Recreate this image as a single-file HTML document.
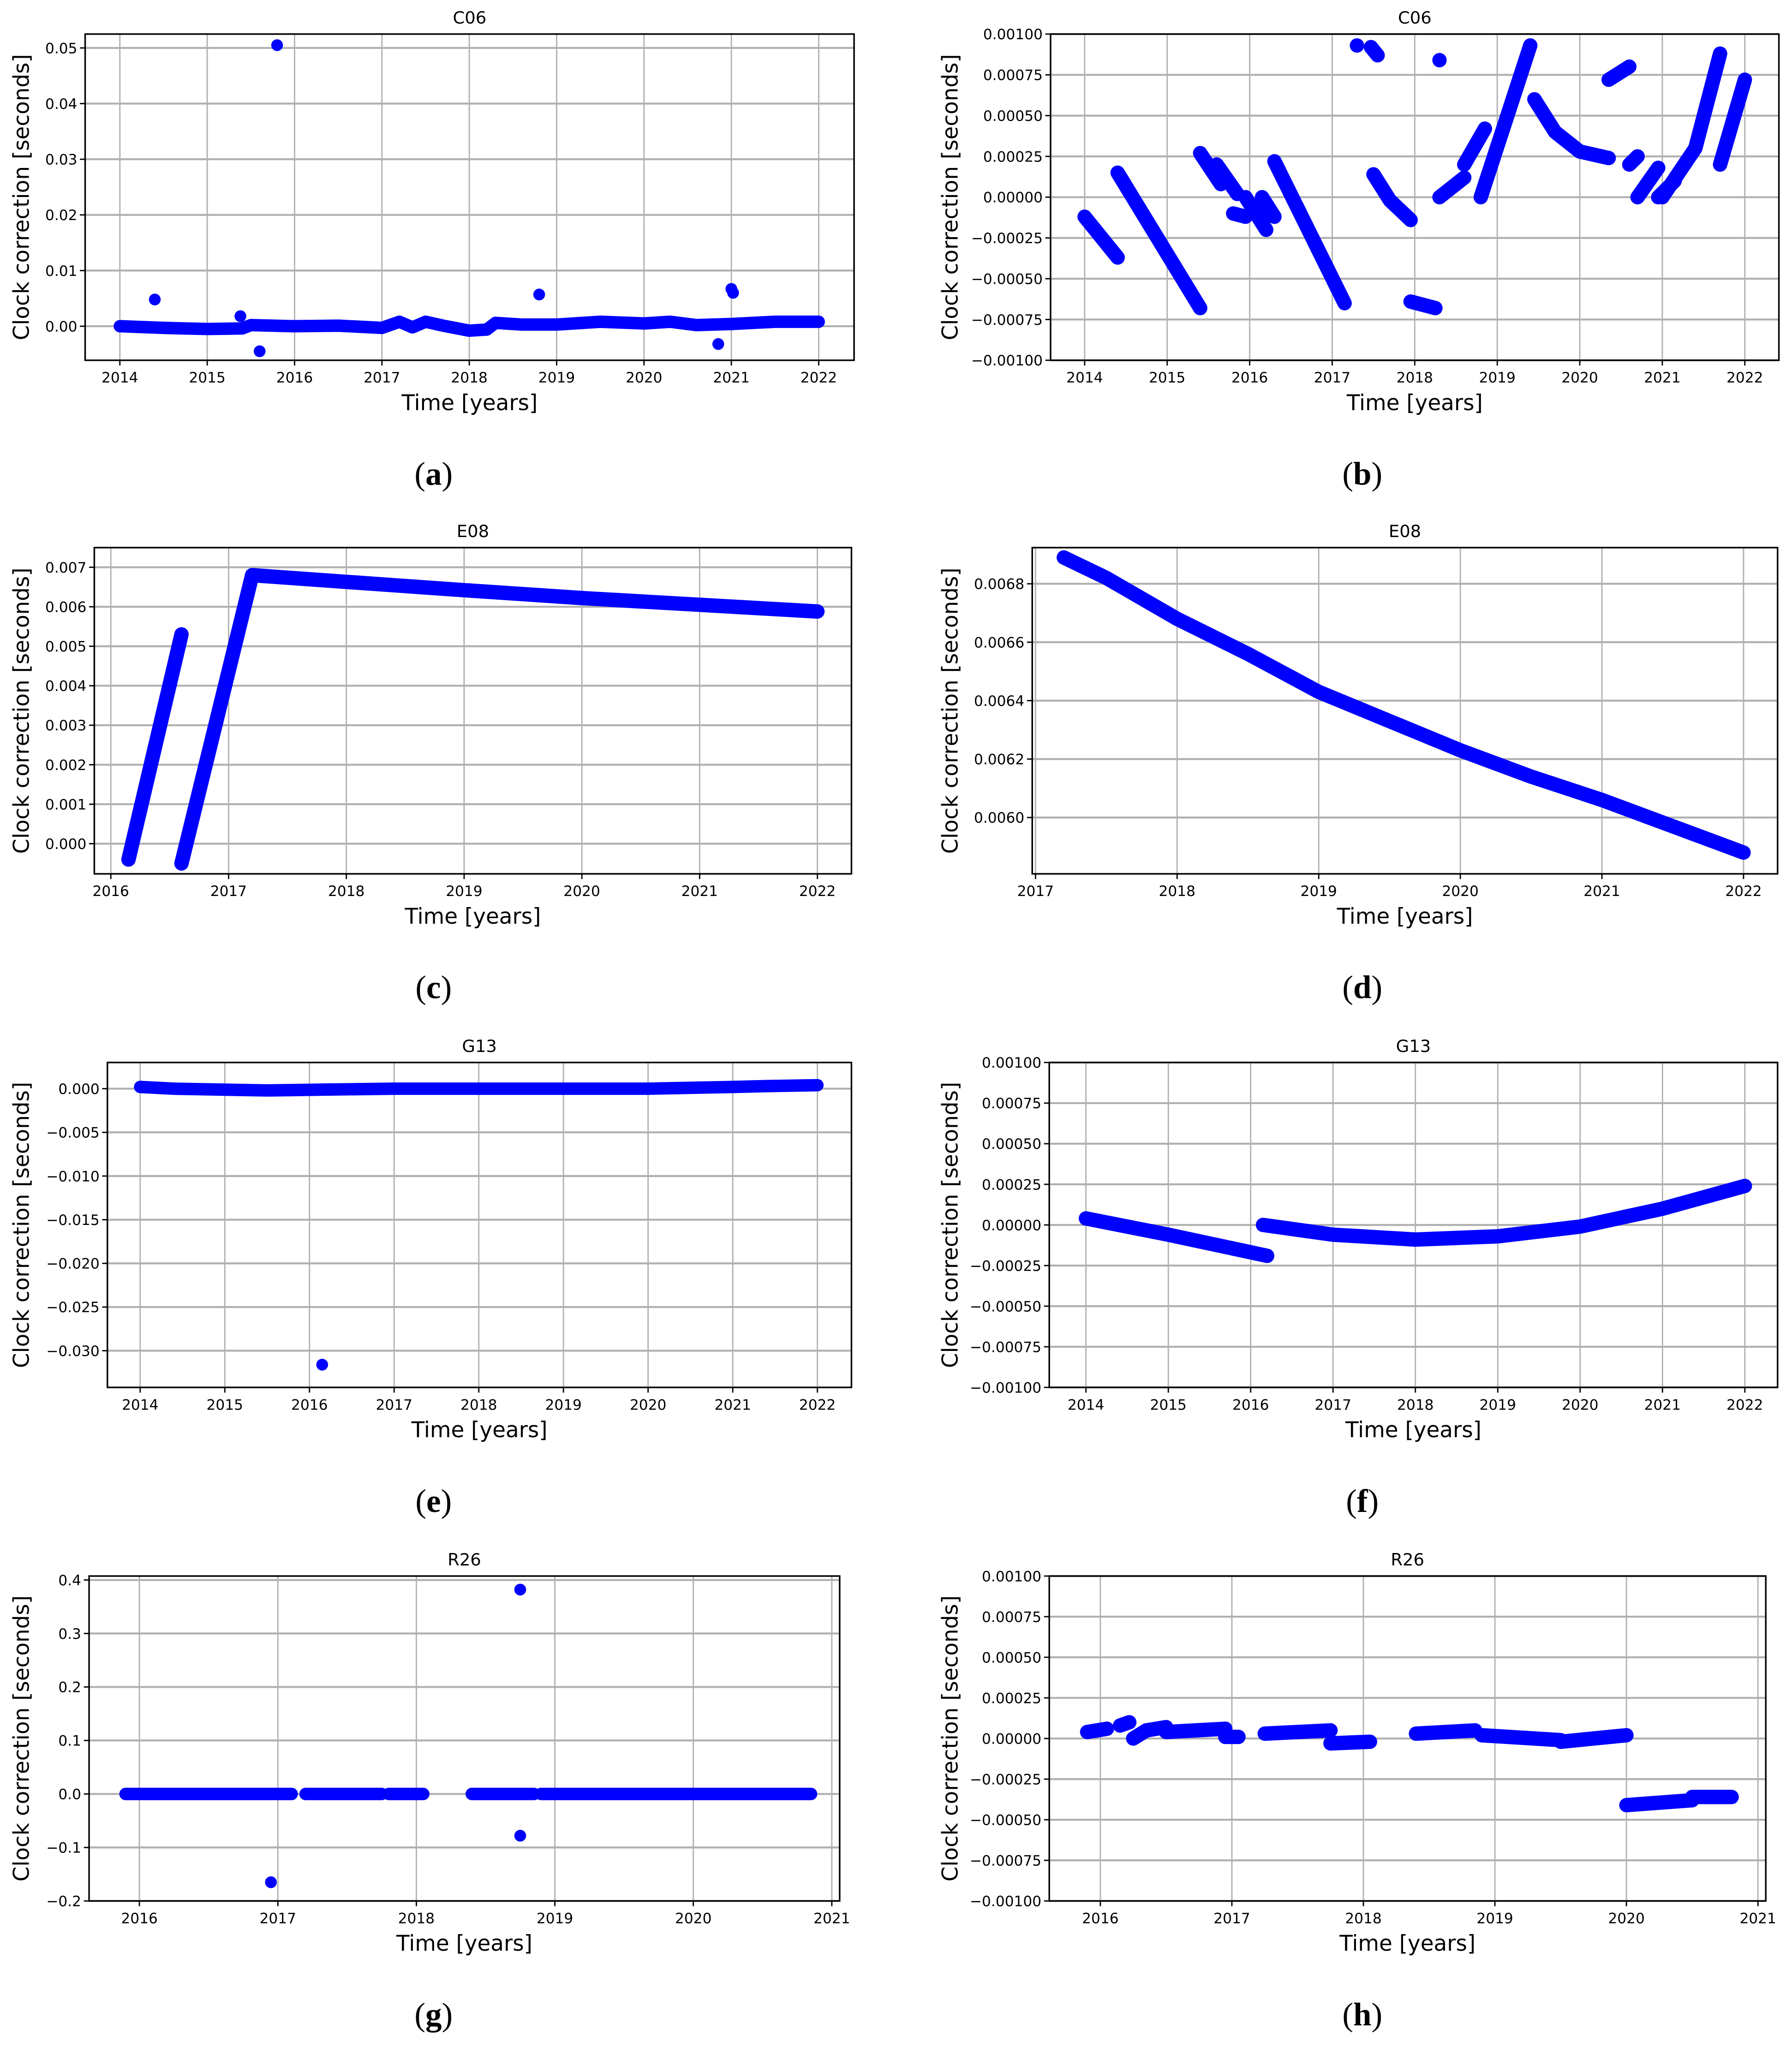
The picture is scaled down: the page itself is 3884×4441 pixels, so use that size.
<!DOCTYPE html>
<html><head><meta charset="utf-8"><style>
html,body{margin:0;padding:0;background:#fff;}
svg{display:block;}
text{font-family:"DejaVu Sans","Liberation Sans",sans-serif;fill:#000;}
.sub{font-family:"Liberation Serif",serif;}
</style></head><body>
<svg id="fig" width="3884" height="4441" viewBox="0 0 1368 1564" preserveAspectRatio="none" xmlns="http://www.w3.org/2000/svg"></svg>
<script>
// ---- data (years, seconds) ----
const a_line_t=[2014,2014.5,2015,2015.4,2015.5,2016,2016.5,2017,2017.2,2017.35,2017.5,2017.7,2018,2018.2,2018.3,2018.6,2019,2019.5,2020,2020.3,2020.6,2021,2021.5,2022];
const a_line_v=[0,-0.0003,-0.0005,-0.0004,0.0002,0,0.0001,-0.0003,0.0008,-0.0002,0.0008,0.0001,-0.0008,-0.0006,0.0006,0.0003,0.0003,0.0008,0.0005,0.0008,0.0002,0.0004,0.0008,0.0008];
const a_out_t=[2014.4,2015.38,2015.6,2015.8,2018.8,2020.85,2021.0,2021.02];
const a_out_v=[0.0048,0.0018,-0.0045,0.0505,0.0057,-0.0032,0.0067,0.006];

const b_segs=[
 {t:[2014.0,2014.4],v:[-0.00012,-0.00037]},
 {t:[2014.4,2015.4],v:[0.00015,-0.00068]},
 {t:[2015.4,2015.65],v:[0.00027,0.00008]},
 {t:[2015.6,2015.85],v:[0.0002,0.00002]},
 {t:[2015.8,2015.95],v:[-0.0001,-0.00012]},
 {t:[2015.95,2016.2],v:[0.0,-0.0002]},
 {t:[2016.15,2016.3],v:[0.0,-0.00012]},
 {t:[2016.3,2017.15],v:[0.00022,-0.00065]},
 {t:[2017.3,2017.3],v:[0.00093,0.00093]},
 {t:[2017.47,2017.55],v:[0.00092,0.00087]},
 {t:[2017.5,2017.7,2017.95],v:[0.00014,-0.00002,-0.00014]},
 {t:[2017.95,2018.25],v:[-0.00064,-0.00068]},
 {t:[2018.3,2018.3],v:[0.00084,0.00084]},
 {t:[2018.3,2018.6],v:[0.0,0.00012]},
 {t:[2018.6,2018.85],v:[0.0002,0.00042]},
 {t:[2018.8,2019.4],v:[0.0,0.00093]},
 {t:[2019.45,2019.7,2020.0,2020.35],v:[0.0006,0.0004,0.00028,0.00024]},
 {t:[2020.35,2020.6],v:[0.00072,0.0008]},
 {t:[2020.6,2020.7],v:[0.0002,0.00025]},
 {t:[2020.7,2020.95],v:[0.0,0.00018]},
 {t:[2020.95,2021.15],v:[0.0,0.0001]},
 {t:[2021.0,2021.4,2021.7],v:[0.0,0.0003,0.00088]},
 {t:[2021.7,2022.0],v:[0.0002,0.00072]}
];

const c_segs=[
 {t:[2016.15,2016.6],v:[-0.0004,0.0053]},
 {t:[2016.6,2017.2,2018,2019,2020,2021,2022],v:[-0.0005,0.0068,0.00663,0.00642,0.00622,0.00605,0.00588]}
];
const d_t=[2017.2,2017.5,2018,2018.5,2019,2019.5,2020,2020.5,2021,2021.5,2022];
const d_v=[0.00689,0.00682,0.00668,0.00656,0.00643,0.00633,0.00623,0.00614,0.00606,0.00597,0.00588];

const e_t=[2014,2014.4,2015.5,2016.2,2017,2018,2019,2020,2021,2021.4,2022];
const e_v=[0.0002,0,-0.0002,-0.0001,0,0,0,0,0.0002,0.0003,0.0004];
const e_out_t=[2016.15];
const e_out_v=[-0.0316];

const f_segs=[
 {t:[2014,2015,2016.2],v:[0.00004,-0.00006,-0.00019]},
 {t:[2016.15,2017,2018,2019,2020,2021,2022],v:[0.0,-0.00006,-0.00009,-0.00007,-0.00001,0.0001,0.00024]}
];

const g_segs=[
 {t:[2015.9,2017.1],v:[0,0]},
 {t:[2017.2,2017.75],v:[0,0]},
 {t:[2017.8,2018.05],v:[0,0]},
 {t:[2018.4,2018.85],v:[0,0]},
 {t:[2018.9,2020.85],v:[0,0]}
];
const g_out_t=[2016.95,2018.75,2018.75];
const g_out_v=[-0.165,0.382,-0.078];

const h_segs=[
 {t:[2015.9,2016.05],v:[0.00004,0.00006]},
 {t:[2016.15,2016.22],v:[0.00008,0.0001]},
 {t:[2016.25,2016.35,2016.5],v:[0.0,0.00005,0.00007]},
 {t:[2016.5,2016.95],v:[0.00004,0.00006]},
 {t:[2016.95,2017.05],v:[0.00001,0.00001]},
 {t:[2017.25,2017.75],v:[0.00003,0.00005]},
 {t:[2017.75,2018.05],v:[-0.00003,-0.00002]},
 {t:[2018.4,2018.85],v:[0.00003,0.00005]},
 {t:[2018.9,2019.5],v:[0.00002,-0.00001]},
 {t:[2019.5,2020.0],v:[-0.00002,0.00002]},
 {t:[2020.0,2020.5],v:[-0.00041,-0.00038]},
 {t:[2020.5,2020.8],v:[-0.00036,-0.00036]}
];

const yearTicks8=[2014,2015,2016,2017,2018,2019,2020,2021,2022];
const a_yticks=[0,0.01,0.02,0.03,0.04,0.05];
const a_ylabels=["0.00","0.01","0.02","0.03","0.04","0.05"];
const mic_yticks=[-0.001,-0.00075,-0.0005,-0.00025,0,0.00025,0.0005,0.00075,0.001];
const mic_ylabels=["\u22120.00100","\u22120.00075","\u22120.00050","\u22120.00025","0.00000","0.00025","0.00050","0.00075","0.00100"];
const c_xticks=[2016,2017,2018,2019,2020,2021,2022];
const c_yticks=[0,0.001,0.002,0.003,0.004,0.005,0.006,0.007];
const c_ylabels=["0.000","0.001","0.002","0.003","0.004","0.005","0.006","0.007"];
const d_xticks=[2017,2018,2019,2020,2021,2022];
const d_yticks=[0.006,0.0062,0.0064,0.0066,0.0068];
const d_ylabels=["0.0060","0.0062","0.0064","0.0066","0.0068"];
const e_yticks=[-0.03,-0.025,-0.02,-0.015,-0.01,-0.005,0];
const e_ylabels=["\u22120.030","\u22120.025","\u22120.020","\u22120.015","\u22120.010","\u22120.005","0.000"];
const g_xticks=[2016,2017,2018,2019,2020,2021];
const g_yticks=[-0.2,-0.1,0,0.1,0.2,0.3,0.4];
const g_ylabels=["\u22120.2","\u22120.1","0.0","0.1","0.2","0.3","0.4"];

const NS="http://www.w3.org/2000/svg";
const svg=document.getElementById('fig');
function mk(tag,attrs,parent,txt){const e=document.createElementNS(NS,tag);for(const k in attrs)e.setAttribute(k,attrs[k]);if(txt!==undefined)e.textContent=txt;(parent||svg).appendChild(e);return e;}

function panel(p){
  const g=mk('g',{});
  
  
  const X=t=>p.x0+(t-p.t0)*(p.x1-p.x0)/(p.t1-p.t0);
  const Y=v=>p.y0+(v-p.v0)*(p.y1-p.y0)/(p.v1-p.v0);
  p.xt.forEach(t=>{const l=mk('line',{x1:X(t),x2:X(t),y1:p.top,y2:p.bot,stroke:'#b0b0b0','stroke-width':1},g);});
  p.yt.forEach(v=>{const l=mk('line',{x1:p.left,x2:p.right,y1:Y(v),y2:Y(v),stroke:'#b0b0b0','stroke-width':1.5},g);});
  const sw=p.sw||9.5;
  (p.segs||[]).forEach(s=>{
    const pts=s.t.map((t,i)=>X(t).toFixed(2)+','+Y(s.v[i]).toFixed(2)).join(' ');
    const pl=mk('polyline',{points:pts,fill:'none',stroke:'#0000ff','stroke-width':sw,'stroke-linecap':'round','stroke-linejoin':'round'},g);
    
    
  });
  (p.outT||[]).forEach((t,i)=>{
    const c=mk('circle',{cx:X(t),cy:Y(p.outV[i]),r:4.5,fill:'#0000ff'},g);
    
    
  });
  const fr=mk('rect',{x:p.left,y:p.top,width:p.right-p.left,height:p.bot-p.top,fill:'none',stroke:'#000','stroke-width':1.2},g);
  
  
  p.xt.forEach(t=>{
    mk('line',{x1:X(t),x2:X(t),y1:p.bot,y2:p.bot+4,stroke:'#000','stroke-width':1},g);
    const tx=mk('text',{x:X(t),y:p.bot+17,'font-size':11,'text-anchor':'middle'},g,String(t));
    
    
  });
  p.yt.forEach((v,i)=>{
    mk('line',{x1:p.left-4,x2:p.left,y1:Y(v),y2:Y(v),stroke:'#000','stroke-width':1},g);
    const tx=mk('text',{x:p.left-6,y:Y(v)+4,'font-size':11,'text-anchor':'end'},g,p.yl[i]);
    
    
  });
  const cx=(p.left+p.right)/2, cy=(p.top+p.bot)/2;
  const ti=mk('text',{x:cx,y:p.top-8,'font-size':13,'text-anchor':'middle'},g,p.title);
  
  
  const xl=mk('text',{x:cx,y:p.bot+38,'font-size':16.5,'text-anchor':'middle'},g,'Time [years]');
  
  
  const yl=mk('text',{x:0,y:0,'font-size':16.5,'text-anchor':'middle',transform:'translate('+(p.ylx)+','+cy+') rotate(-90)'},g,'Clock correction [seconds]');
  
  
  const sl=mk('text',{x:p.subx,y:p.bot+95,'font-size':25,'text-anchor':'middle','class':'sub'},g);
  
  
  mk('tspan',{},sl,'(');mk('tspan',{'font-weight':'bold'},sl,p.id);mk('tspan',{},sl,')');
}

const toSegs=(t,v)=>[{t:t,v:v}];
panel({id:'a',title:'C06',left:65,right:652,top:26,bot:275,x0:91.5,x1:625,t0:2014,t1:2022,y0:249,y1:36.6,v0:0,v1:0.05,xt:yearTicks8,yt:a_yticks,yl:a_ylabels,segs:toSegs(a_line_t,a_line_v),outT:a_out_t,outV:a_out_v,ylx:22,subx:331});
panel({id:'b',title:'C06',left:802,right:1358,top:26,bot:275,x0:828,x1:1332,t0:2014,t1:2022,y0:275,y1:26,v0:-0.001,v1:0.001,xt:yearTicks8,yt:mic_yticks,yl:mic_ylabels,segs:b_segs,ylx:731,subx:1040,sw:11});
panel({id:'c',title:'E08',left:72,right:650,top:418,bot:667,x0:84.6,x1:624,t0:2016,t1:2022,y0:644,y1:433,v0:0,v1:0.007,xt:c_xticks,yt:c_yticks,yl:c_ylabels,segs:c_segs,ylx:22,subx:331,sw:11});
panel({id:'d',title:'E08',left:788,right:1357,top:418,bot:667,x0:790.5,x1:1331,t0:2017,t1:2022,y0:624,y1:445.6,v0:0.006,v1:0.0068,xt:d_xticks,yt:d_yticks,yl:d_ylabels,segs:toSegs(d_t,d_v),ylx:731,subx:1040,sw:11});
panel({id:'e',title:'G13',left:82,right:650,top:811,bot:1059,x0:107,x1:624,t0:2014,t1:2022,y0:831,y1:1031,v0:0,v1:-0.03,xt:yearTicks8,yt:e_yticks,yl:e_ylabels,segs:toSegs(e_t,e_v),outT:e_out_t,outV:e_out_v,ylx:22,subx:331});
panel({id:'f',title:'G13',left:801,right:1357,top:811,bot:1059,x0:829,x1:1332,t0:2014,t1:2022,y0:1059,y1:811,v0:-0.001,v1:0.001,xt:yearTicks8,yt:mic_yticks,yl:mic_ylabels,segs:f_segs,ylx:731,subx:1040,sw:11});
panel({id:'g',title:'R26',left:68,right:641,top:1203,bot:1451,x0:106.4,x1:635,t0:2016,t1:2021,y0:1451,y1:1206,v0:-0.2,v1:0.4,xt:g_xticks,yt:g_yticks,yl:g_ylabels,segs:g_segs,outT:g_out_t,outV:g_out_v,ylx:22,subx:331});
panel({id:'h',title:'R26',left:801,right:1348,top:1203,bot:1451,x0:840,x1:1342,t0:2016,t1:2021,y0:1451,y1:1203,v0:-0.001,v1:0.001,xt:g_xticks,yt:mic_yticks,yl:mic_ylabels,segs:h_segs,ylx:731,subx:1040,sw:11});
</script>
</body></html>
